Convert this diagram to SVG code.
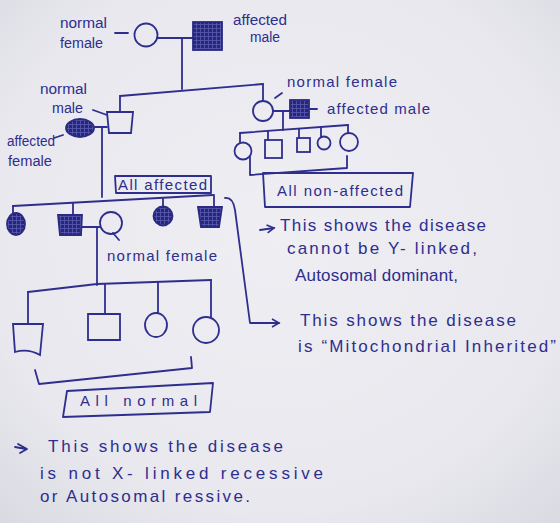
<svg xmlns="http://www.w3.org/2000/svg" width="560" height="523" viewBox="0 0 560 523">
<defs>
<radialGradient id="paper" cx="0.5" cy="0.45" r="0.75">
<stop offset="0" stop-color="#eeeef3"/>
<stop offset="0.7" stop-color="#e8e8ee"/>
<stop offset="1" stop-color="#d9d9e1"/>
</radialGradient>
<pattern id="hatch" width="4" height="4" patternUnits="userSpaceOnUse">
<rect width="4" height="4" fill="#26267a"/>
<path d="M0 0.5H4M0.5 0V4" stroke="#5a5ab0" stroke-width="0.8"/>
</pattern>
<marker id="ah" markerWidth="10" markerHeight="10" refX="8" refY="5" orient="auto" markerUnits="userSpaceOnUse">
<path d="M1 1L8 5L1 9" fill="none" stroke="#2e2e8e" stroke-width="1.6"/>
</marker>
</defs>
<style>
.ink{fill:none;stroke:#2e2e8e;stroke-width:1.8;stroke-linecap:round;stroke-linejoin:round}
.aff{fill:url(#hatch);stroke:#2a2a80;stroke-width:1.8}
.nrm{fill:none;stroke:#2e2e8e;stroke-width:1.8}
text{font-family:"Liberation Sans","DejaVu Sans",sans-serif;fill:#2e2e8e;font-size:15px}
.sm{font-size:14px}
.big{font-size:17px}
</style>
<rect width="560" height="523" fill="url(#paper)"/>

<g id="connectors" class="ink">
<path d="M157 38H193"/>
<path d="M182 38V89"/>
<path d="M120 96L263 84"/>
<path d="M120 96V112"/>
<path d="M263 84V100"/>
<path d="M95 127H107"/>
<path d="M102 127L102 197"/>
<path d="M273 111H290"/>
<path d="M283 111V130"/>
<path d="M240 133L348 125"/>
<path d="M240 133V142"/>
<path d="M268 131V140"/>
<path d="M299 129V138"/>
<path d="M321 127V137"/>
<path d="M348 125V133"/>
<path d="M13 206L213 195"/>
<path d="M13 206V213"/>
<path d="M73 203V215"/>
<path d="M163 199V207"/>
<path d="M214 195V206"/>
<path d="M82 227H100"/>
<path d="M97 227V285"/>
<path d="M28 292L97 284L211 280"/>
<path d="M28 292V324"/>
<path d="M105 284V313"/>
<path d="M158 282V313"/>
<path d="M211 280V317"/>
<path d="M113 233L119 240"/>
<path d="M115 33H128"/>
<path d="M93 110L107 115"/>
<path d="M54 138L63 135"/>
<path d="M275 98L282 93"/>
<path d="M310 109H317"/>
<path d="M250 157V175L347 168V156"/>
<path d="M35 370L39 384L192 368L191 357"/>
<path d="M225 198Q233 197 235 210L250 323H279" marker-end="url(#ah)"/>
<path d="M260 230L274 228" marker-end="url(#ah)"/>
<path d="M15 447L26 449M18 444L27 449L20 453"/>
<path d="M263 173H413L410 207H265Z"/>
<path d="M115 176H211V193H116Z"/>
<path d="M67 391L213 383L210 412L63 417Z"/>
</g>

<g id="g1-female"><circle cx="146" cy="35" r="11.5" class="nrm"/></g>
<g id="g1-male"><rect x="193" y="22" width="29" height="28" class="aff"/></g>

<g id="g2-male"><path d="M107 112H133L131 133H109Z" class="nrm"/></g>
<g id="g2-female-aff"><ellipse cx="80" cy="128" rx="14" ry="9" class="aff"/></g>
<g id="g2-female"><circle cx="263" cy="111" r="10" class="nrm"/></g>
<g id="g2-male-aff"><rect x="290" y="100" width="19" height="18" class="aff"/></g>

<g id="c2-1"><circle cx="243" cy="151" r="8.5" class="nrm"/></g>
<g id="c2-2"><rect x="265" y="140" width="17" height="18" class="nrm"/></g>
<g id="c2-3"><rect x="297" y="138" width="13" height="14" class="nrm"/></g>
<g id="c2-4"><circle cx="324" cy="143" r="6.5" class="nrm"/></g>
<g id="c2-5"><circle cx="349" cy="142" r="9" class="nrm"/></g>

<g id="g3-1"><ellipse cx="16" cy="224" rx="9" ry="11" class="aff"/></g>
<g id="g3-2"><path d="M58 215H82L81 235H60Z" class="aff"/></g>
<g id="g3-wife"><circle cx="111" cy="223" r="11" class="nrm"/></g>
<g id="g3-3"><circle cx="163" cy="216" r="9.5" class="aff"/></g>
<g id="g3-4"><path d="M198 207H222L219 227H201Z" class="aff"/></g>

<g id="g4-1"><path d="M13 324H43L40 355Q28 348 15 352Z" class="nrm"/></g>
<g id="g4-2"><path d="M88 314H120V340H88Z" class="nrm"/></g>
<g id="g4-3"><ellipse cx="156" cy="325" rx="11" ry="12" class="nrm"/></g>
<g id="g4-4"><ellipse cx="206" cy="330" rx="13" ry="13" class="nrm"/></g>

<g id="labels">
<text class="sm" x="60" y="28" textLength="47" lengthAdjust="spacingAndGlyphs">normal</text>
<text class="sm" x="60" y="48" textLength="43" lengthAdjust="spacingAndGlyphs">female</text>
<text class="sm" x="233" y="25" textLength="54" lengthAdjust="spacingAndGlyphs">affected</text>
<text class="sm" x="250" y="42" textLength="30" lengthAdjust="spacingAndGlyphs">male</text>
<text class="sm" x="40" y="94" textLength="47" lengthAdjust="spacingAndGlyphs">normal</text>
<text class="sm" x="52" y="113" textLength="31" lengthAdjust="spacingAndGlyphs">male</text>
<text class="sm" x="7" y="146" textLength="48" lengthAdjust="spacingAndGlyphs">affected</text>
<text class="sm" x="8" y="166" textLength="44" lengthAdjust="spacingAndGlyphs">female</text>
<text x="287" y="87" textLength="110" lengthAdjust="spacing">normal female</text>
<text x="327" y="114" textLength="103" lengthAdjust="spacing">affected male</text>
<text x="277" y="196" textLength="126" lengthAdjust="spacing">All non-affected</text>
<text x="118" y="190" textLength="89" lengthAdjust="spacing">All affected</text>
<text x="107" y="261" textLength="110" lengthAdjust="spacing">normal female</text>
<text x="80" y="406" textLength="117" lengthAdjust="spacing">All normal</text>
</g>

<g id="notes">
<text class="big" x="280" y="231" textLength="206" lengthAdjust="spacing">This shows the disease</text>
<text class="big" x="287" y="254" textLength="190" lengthAdjust="spacing">cannot be Y- linked,</text>
<text class="big" x="295" y="281" textLength="163" lengthAdjust="spacing">Autosomal dominant,</text>
<text class="big" x="300" y="326" textLength="216" lengthAdjust="spacing">This shows the disease</text>
<text class="big" x="298" y="352" textLength="258" lengthAdjust="spacing">is “Mitochondrial Inherited”</text>
<text class="big" x="48" y="452" textLength="235" lengthAdjust="spacing">This shows the disease</text>
<text class="big" x="40" y="479" textLength="283" lengthAdjust="spacing">is not X- linked recessive</text>
<text class="big" x="40" y="502" textLength="210" lengthAdjust="spacing">or Autosomal ressive.</text>
</g>
</svg>
